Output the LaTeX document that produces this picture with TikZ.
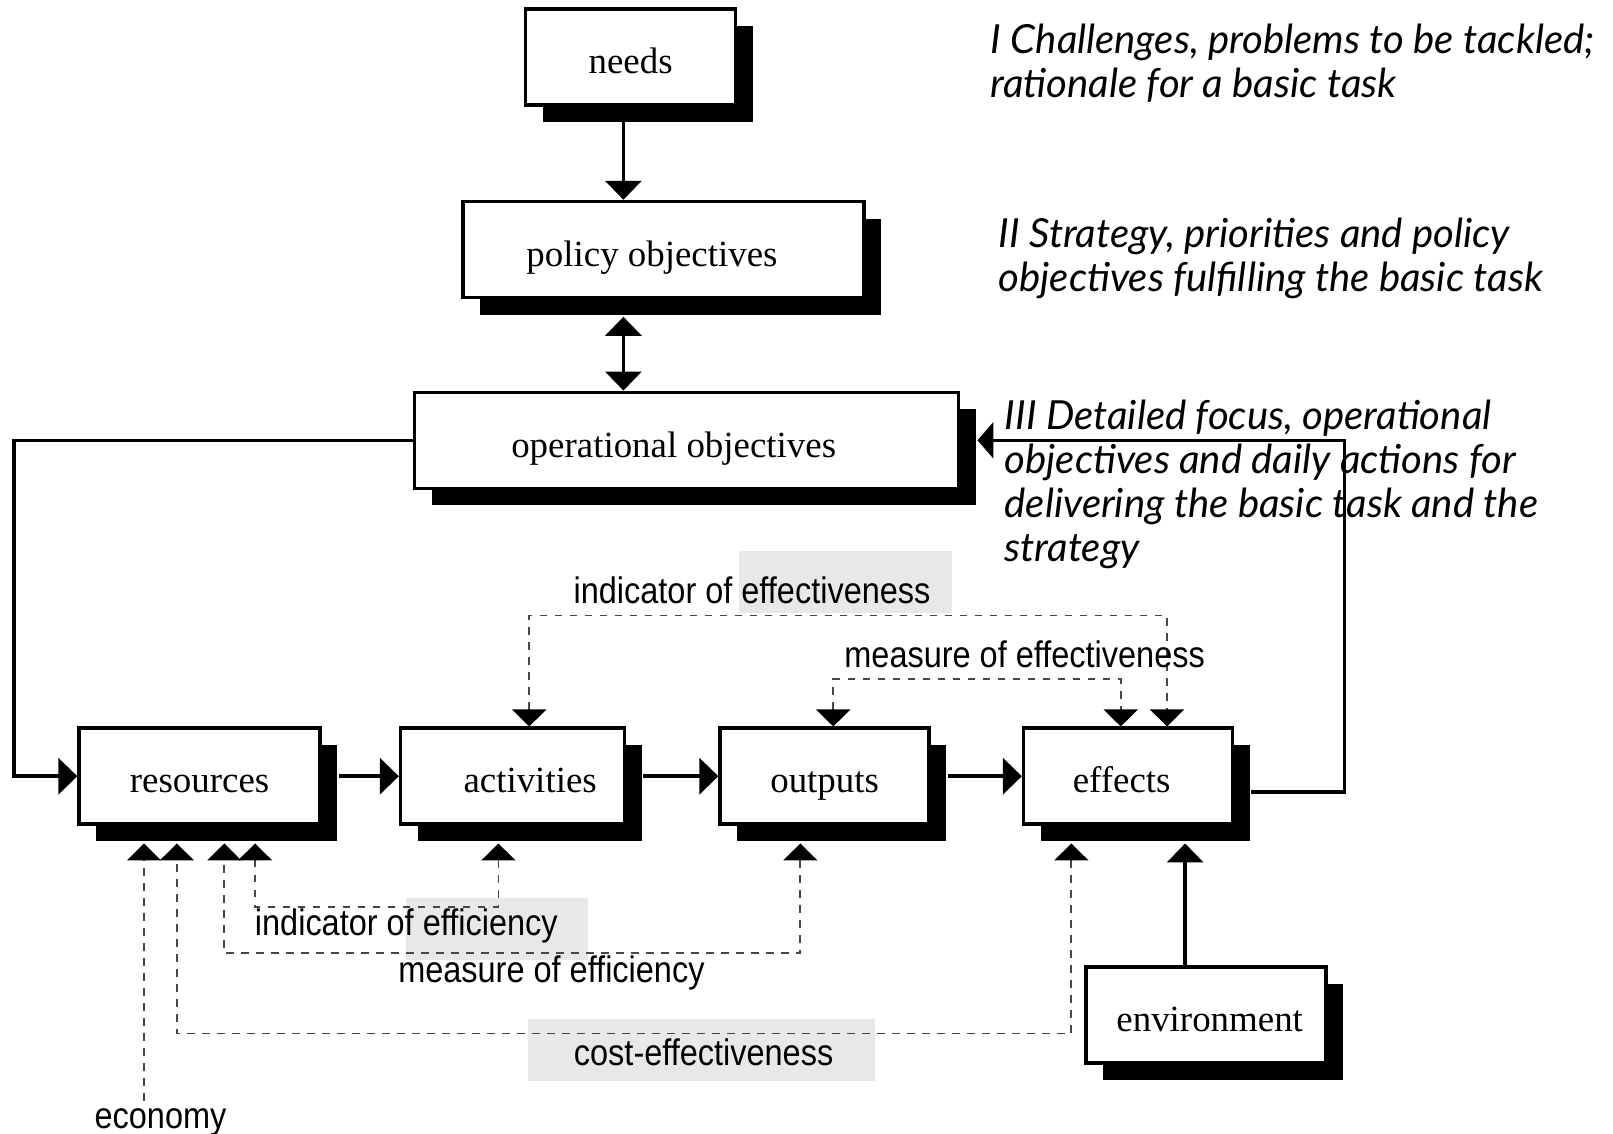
\documentclass[tikz,border=0pt]{standalone}
\usepackage{fontspec}
\setmainfont{Liberation Serif}
\newfontfamily\lblfont[FakeStretch=0.88]{Liberation Sans}
\newfontfamily\notefont{Lato}
\usetikzlibrary{positioning,calc,arrows.meta,shadows}
\definecolor{lblgray}{RGB}{232,232,232}
\definecolor{dashgray}{RGB}{70,70,70}

\tikzset{
    blk/.style={draw, line width=1pt, fill=white, minimum height=0.96cm,
        text height=9.5pt, text depth=0pt,
        font=\fontsize{10.5}{12}\selectfont,
        general shadow={fill=black, shadow xshift=1.7mm, shadow yshift=-1.7mm}},
    txtshift/.style={execute at begin node={\hspace*{#1}}},
    tri/.tip={Triangle[width=3.6mm,length=1.9mm]},
    dtri/.tip={Triangle[width=3.4mm,length=1.7mm,color=black]},
    flow/.style={line width=1pt, -tri},
    dline/.style={draw=dashgray, line width=0.5pt, dash pattern=on 0.75mm off 0.75mm, dtri-dtri},
    lbl/.style={font=\lblfont\fontsize{10.5}{12}\selectfont, inner sep=0pt},
    note/.style={font=\notefont\itshape\fontsize{11.4}{12.5}\selectfont, align=left,
        inner sep=0pt, anchor=north west},
}

\begin{document}
\begin{tikzpicture}
    \useasboundingbox (0,0) rectangle (16.13,-11.33);

    % grey patches behind some labels
    \fill[lblgray] (7.386,-5.514) rectangle (9.516,-6.131);
    \fill[lblgray] (4.063,-8.980) rectangle (5.884,-9.598);
    \fill[lblgray] (5.277,-10.194) rectangle (8.754,-10.812);

    \node[blk, minimum width=2.10cm] (needs) at (6.306,-0.571) {needs};
    \node[blk, minimum width=4.01cm, txtshift=-2.3mm] (pol) at (6.635,-2.495) {policy objectives};
    \node[blk, minimum width=5.44cm, txtshift=-2.6mm] (ops) at (6.867,-4.403) {operational objectives};
    \node[blk, minimum width=2.41cm] (res) at (1.996,-7.762) {resources};
    \node[blk, minimum width=2.24cm, txtshift=3.5mm, right=0.77cm of res] (act) {activities};
    \node[blk, minimum width=2.09cm, right=0.92cm of act] (out) {outputs};
    \node[blk, minimum width=2.09cm, txtshift=-1.3mm, right=0.91cm of out] (eff) {effects};
    \node[blk, minimum width=2.40cm, txtshift=0.7mm] (env) at (12.062,-10.148) {environment};

    \node[note] (lvlone) at (9.90,-0.23) {I Challenges, problems to be tackled;\\rationale for a basic task};
    \node[note] (lvltwo) at (9.98,-2.17) {II Strategy, priorities and policy\\objectives fulfilling the basic task};
    \node[note] (lvlthree) at (10.04,-3.99) {III Detailed focus, operational\\objectives and daily actions for\\delivering the basic task and the\\strategy};

    \coordinate (spine) at ([xshift=-0.72mm]needs.south);
    \coordinate (envtip) at ($(eff.south)+(0.57,-0.175)$);
    \draw[flow] (spine) -- (spine |- pol.north);
    \draw[flow, tri-tri] ($(spine |- pol.south)+(0,-0.175)$) -- (spine |- ops.north);
    \draw[flow] (ops.west) -- ++(-3.99,0) |- (res.west);
    \draw[flow] ([xshift=1.7mm]res.east) -- (act.west);
    \draw[flow] ([xshift=1.7mm]act.east) -- (out.west);
    \draw[flow] ([xshift=1.7mm]out.east) -- (eff.west);
    \draw[flow, -{Triangle[width=3.6mm,length=1.6mm]}] ([shift={(1.7mm,-1.6mm)}]eff.east) -| ([xshift=3.84cm]ops.east) -- ([xshift=1.7mm]ops.east);
    \draw[flow] (envtip |- env.north) -- (envtip);

    \draw[dline] ([xshift=1.66mm]act.north) |- ([shift={(3.89mm,11.1mm)}]eff.north) -- ([xshift=3.89mm]eff.north);
    \draw[dline] ([xshift=0.86mm]out.north) |- ([shift={(-0.74mm,4.72mm)}]eff.north) -- ([xshift=-0.74mm]eff.north);
    \draw[dline] ([shift={(-1.42mm,-1.75mm)}]act.south) |- ([shift={(5.55mm,-8.11mm)}]res.south) -- ([shift={(5.55mm,-1.75mm)}]res.south);
    \draw[dline] ([shift={(-2.43mm,-1.75mm)}]out.south) |- ([shift={(2.47mm,-12.73mm)}]res.south) -- ([shift={(2.47mm,-1.75mm)}]res.south);
    \draw[dline] ([shift={(-5.68mm,-1.75mm)}]eff.south) |- ([shift={(-2.27mm,-20.76mm)}]res.south) -- ([shift={(-2.27mm,-1.75mm)}]res.south);

    \node[lbl] (ieff) at (7.52,-5.905) {indicator of effectiveness};
    \node[lbl] (meff) at (10.246,-6.543) {measure of effectiveness};
    \node[lbl] (ieffc) at (4.063,-9.258) {indicator of efficiency};
    \node[lbl] (meffc) at (5.514,-9.732) {measure of efficiency};
    \node[lbl] (costeff) at (7.036,-10.524) {cost-effectiveness};
    \node[lbl, inner sep=0.7mm] (econ) at (1.605,-11.22) {economy};

    \coordinate (ecotip) at ([shift={(-5.56mm,-1.75mm)}]res.south);
    \draw[dline, -dtri] (econ.north -| ecotip) -- (ecotip);
\end{tikzpicture}
\end{document}
